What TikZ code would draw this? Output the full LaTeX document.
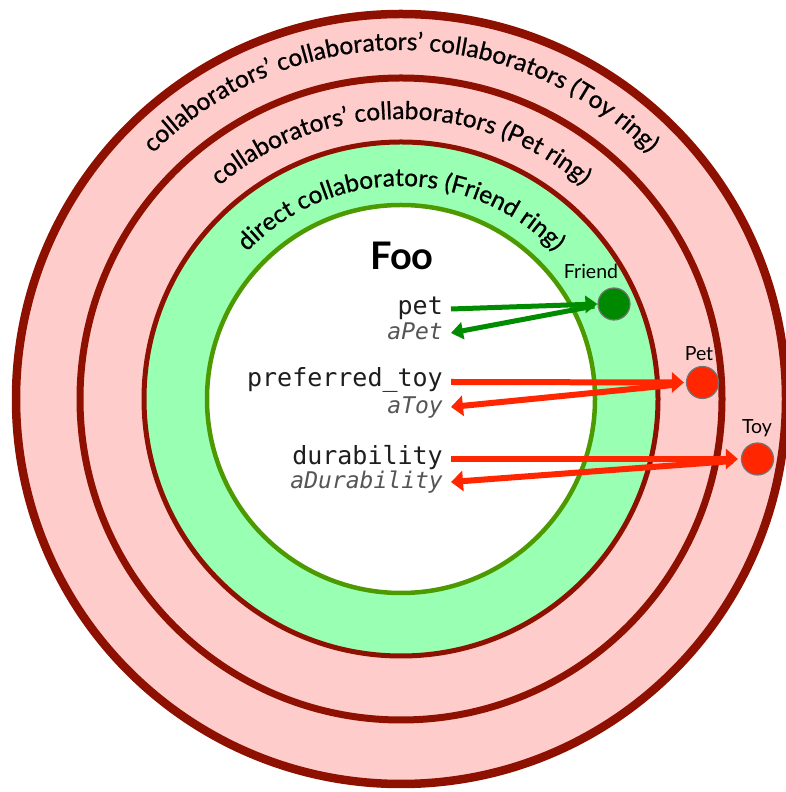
\documentclass[tikz,border=0pt]{standalone}
\usepackage{fontspec}
\setmainfont{Lato}
\setmonofont{DejaVu Sans Mono}
\newfontfamily\ringfam[Ligatures=TeX, BoldFont=Lato, BoldFeatures={FakeBold=0.7}]{Lato}
\usetikzlibrary{decorations.text,arrows.meta}
\definecolor{ringred}{RGB}{142,16,0}
\definecolor{ringpink}{RGB}{255,204,204}
\definecolor{ringgreen}{RGB}{153,255,178}
\definecolor{ringgreenline}{RGB}{77,153,0}
\definecolor{arrowred}{RGB}{255,38,0}
\definecolor{arrowgreen}{RGB}{0,140,0}
\definecolor{dotgreen}{RGB}{0,136,0}
\definecolor{codegray}{RGB}{85,85,85}
\definecolor{codeblack}{RGB}{30,30,30}
\newcommand\myringfont{\ringfam\bfseries\fontsize{24.5}{24.5}\selectfont}
\begin{document}
\begin{tikzpicture}[x=1pt,y=1pt,
  ringtext/.style={decorate, decoration={text along path, text align=center, text={|\myringfont|#1}}},
  codemain/.style={anchor=base east, inner sep=0pt, text=codeblack, font=\ttfamily\fontsize{25}{25}\selectfont},
  codearg/.style={anchor=base east, inner sep=0pt, text=codegray, font=\ttfamily\itshape\fontsize{23}{23}\selectfont},
  dotlabel/.style={inner sep=0pt, font=\fontsize{19.5}{19.5}\selectfont},
  reddot/.style={circle, fill=arrowred, draw=black!55, line width=1.2pt, minimum size=32pt, inner sep=0pt},
  greendot/.style={circle, fill=dotgreen, draw=black!55, line width=1.2pt, minimum size=32pt, inner sep=0pt},
  redarrow/.style={draw=arrowred, fill=arrowred, line width=6pt, -{Triangle[length=12pt,width=20pt]}},
  greenarrow/.style={draw=arrowgreen, fill=arrowgreen, line width=5pt, -{Triangle[length=12pt,width=17pt]}}
]
\useasboundingbox (0,0) rectangle (785,792);
\coordinate (C) at (401,393);
% rings
\draw[fill=ringpink, draw=ringred, line width=8.5pt] (C) circle[radius=385];
\draw[fill=ringpink, draw=ringred, line width=7pt] (C) circle[radius=321];
\draw[fill=ringgreen, draw=ringred, line width=5pt] (C) circle[radius=257];
\draw[fill=white, draw=ringgreenline, line width=4.5pt] (C) circle[radius=194];
% ring texts
\path[ringtext={collaborators' collaborators' collaborators (Toy ring)}] (C) ++(180:349) arc[start angle=180, end angle=0, radius=349];
\path[ringtext={collaborators' collaborators (Pet ring)}] (C) ++(180:280) arc[start angle=180, end angle=0, radius=280];
\path[ringtext={direct collaborators (Friend ring)}] (C) ++(180:213) arc[start angle=180, end angle=0, radius=213];
% title
\node[anchor=base, inner sep=0pt, font=\bfseries\fontsize{38}{38}\selectfont] (foo) at (402,522) {Foo};
% code labels
\node[codemain] (pet) at (443,477) {pet};
\node[codearg] (apet) at (443,452) {aPet};
\node[codemain] (ptoy) at (443,405) {preferred\_toy};
\node[codearg] (atoy) at (443,378) {aToy};
\node[codemain] (dur) at (443,327) {durability};
\node[codearg] (adur) at (443,303) {aDurability};
% dots
\node[greendot] (friend) at (614,488) {};
\node[reddot] (petdot) at (702.5,409.5) {};
\node[reddot] (toydot) at (757.5,333) {};
\node[dotlabel] (friendlbl) at (591,521) {Friend};
\node[dotlabel] (petlbl) at (699,438) {Pet};
\node[dotlabel] (toylbl) at (757,364) {Toy};
% arrows
\draw[greenarrow] ([xshift=8pt,yshift=6pt]pet.base east) -- (friend.west);
\draw[greenarrow] ([xshift=-3pt,yshift=-2pt]friend.west) -- ([xshift=8pt,yshift=7pt]apet.base east);
\draw[redarrow] ([xshift=8pt,yshift=5pt]ptoy.base east) -- ([xshift=-2pt]petdot.west);
\draw[redarrow] ([xshift=-8pt,yshift=-2pt]petdot.west) -- ([xshift=8pt,yshift=7pt]atoy.base east);
\draw[redarrow] ([xshift=8pt,yshift=6pt]dur.base east) -- ([xshift=-3pt]toydot.west);
\draw[redarrow] ([xshift=-8pt,yshift=-2pt]toydot.west) -- ([xshift=8pt,yshift=7pt]adur.base east);
\end{tikzpicture}
\end{document}
